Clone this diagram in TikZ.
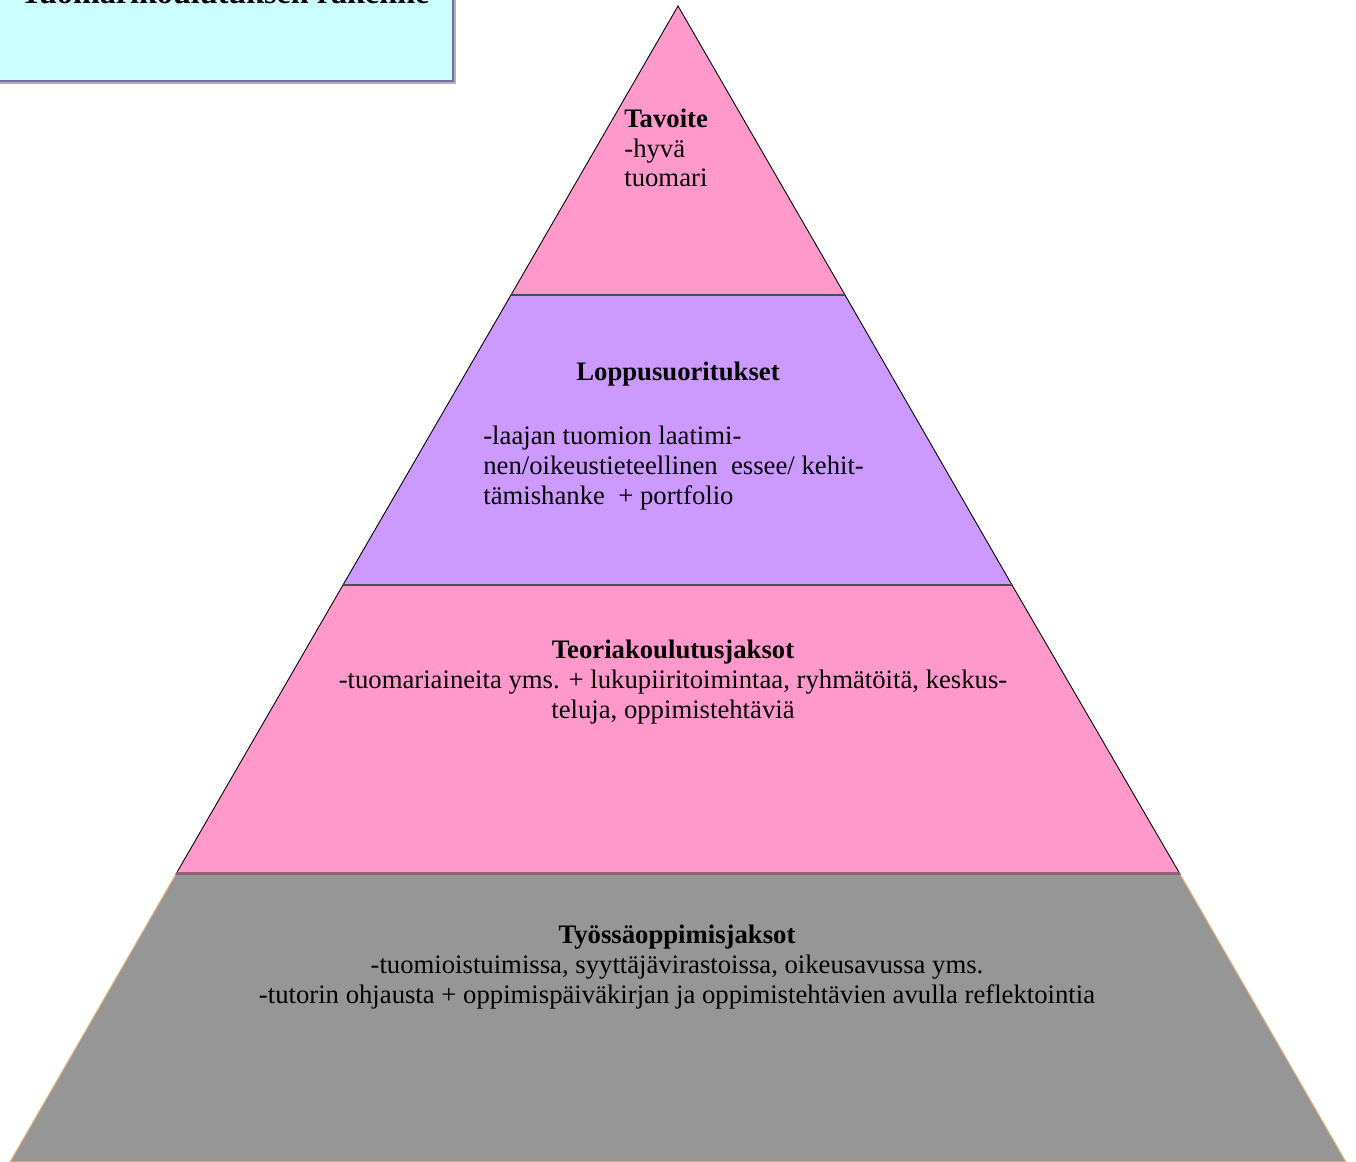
\documentclass[tikz,border=0pt]{standalone}
\usepackage{fontspec}
\setmainfont{Liberation Serif}
\begin{document}
\begin{tikzpicture}[x=0.02cm, y=-0.02cm,
    teksti/.style={inner sep=0pt, font=\fontsize{15.2}{17}\selectfont}]
    % Värit kuten kuvassa
    \definecolor{pinkki}{RGB}{255, 153, 204}
    \definecolor{violetti}{RGB}{204, 153, 255}
    \definecolor{harmaa}{RGB}{150, 150, 150}
    \definecolor{syaani}{RGB}{204, 255, 255}
    \definecolor{reuna}{RGB}{112, 112, 160}
    \definecolor{ruskea}{RGB}{230, 180, 130}

    \useasboundingbox (0,0) rectangle (1356,1162);

    % 1. Otsikkolaatikko
    \fill[gray!60] (-5,-10) rectangle (456,84);
    \filldraw[fill=syaani, draw=reuna, line width=1.2pt] (-5,-10) rectangle (453,81);
    \node[teksti, anchor=base, font=\fontsize{18.3}{22}\selectfont\bfseries] (otsikko) at (225,4) {Tuomarikoulutuksen rakenne};

    % 2. Pyramidin tasot
    \filldraw[fill=harmaa, draw=ruskea, line width=0.6pt] (176,874) -- (1180,874) -- (1346,1162) -- (10,1162) -- cycle;
    \filldraw[fill=pinkki, draw=black, line width=0.5pt] (343,585) -- (1012,585) -- (1180,874) -- (176,874) -- cycle;
    \filldraw[fill=violetti, draw=black, line width=0.5pt] (511,295) -- (845,295) -- (1012,585) -- (343,585) -- cycle;
    \filldraw[fill=pinkki, draw=black, line width=0.5pt] (678,6) -- (845,295) -- (511,295) -- cycle;
    \draw[black!70, line width=1pt] (511,295) -- (845,295);
    \draw[black!70, line width=1pt] (343,585) -- (1012,585);
    \draw[pinkki!60!black, line width=1pt] (176,873) -- (1180,873);

    % 3. Tekstit
    \node[teksti, anchor=base west, align=left] (tavoite) at (624,187)
        {\textbf{Tavoite}\\-hyvä\\tuomari};
    \node[teksti, anchor=base, font=\fontsize{15.2}{17}\selectfont\bfseries] (loppu) at (678,380) {Loppusuoritukset};
    \node[teksti, anchor=base west, align=left] (lopputeksti) at (483,504)
        {-laajan tuomion laatimi-\\nen/oikeustieteellinen\ \ essee/ kehit-\\tämishanke\ \ + portfolio};
    \node[teksti, anchor=base, align=center] (teoria) at (673,718)
        {\textbf{Teoriakoulutusjaksot}\\-tuomariaineita yms. + lukupiiritoimintaa, ryhmätöitä, keskus-\\teluja, oppimistehtäviä};
    \node[teksti, anchor=base, align=center] (tyossa) at (677,1003)
        {\textbf{Työssäoppimisjaksot}\\-tuomioistuimissa, syyttäjävirastoissa, oikeusavussa yms.\\-tutorin ohjausta + oppimispäiväkirjan ja oppimistehtävien avulla reflektointia};
\end{tikzpicture}
\end{document}
